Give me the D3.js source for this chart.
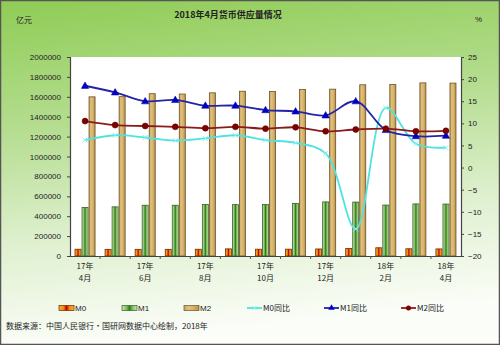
<!DOCTYPE html>
<html><head><meta charset="utf-8">
<script src="https://cdn.jsdelivr.net/npm/d3@7"></script>
<style>
html,body{margin:0;padding:0;background:#fff;}
svg{display:block;}
text{font-family:"Liberation Sans",Arial,sans-serif;fill:#222;}
.cjk{font-family:"Noto Sans CJK SC","Liberation Sans",sans-serif;}
</style></head>
<body>
<script>
const categories = ["2017-04","2017-05","2017-06","2017-07","2017-08","2017-09","2017-10","2017-11","2017-12","2018-01","2018-02","2018-03","2018-04"];
const yearLabels = ["17年","17年","17年","17年","17年","17年","17年","17年","17年","18年","18年","18年","18年"];
const monthLabels = ["4月","5月","6月","7月","8月","9月","10月","11月","12月","1月","2月","3月","4月"];
const m0 = [68100, 67000, 66977, 67100, 67900, 71600, 68300, 68600, 70600, 74600, 82600, 72500, 71100];
const m1 = [488800, 493900, 510200, 510300, 517900, 516000, 517400, 529000, 543800, 542000, 512000, 523500, 521900];
const m2 = [1599600, 1601400, 1631300, 1627900, 1640000, 1655700, 1653400, 1672500, 1676800, 1720800, 1724100, 1739900, 1737700];
const m0Yoy = [6.2, 7.3, 6.8, 6.1, 6.6, 7.3, 6.2, 5.6, 3.2, -13.9, 13.5, 5.4, 4.5];
const m1Yoy = [18.5, 17.0, 15.0, 15.3, 14.0, 14.0, 13.0, 12.7, 11.8, 15.0, 8.5, 7.1, 7.2];
const m2Yoy = [10.5, 9.6, 9.4, 9.2, 8.9, 9.2, 8.8, 9.1, 8.2, 8.6, 8.8, 8.2, 8.3];
const leftTicks = [0, 200000, 400000, 600000, 800000, 1000000, 1200000, 1400000, 1600000, 1800000, 2000000];
const rightTicks = [-20, -15, -10, -5, 0, 5, 10, 15, 20, 25];
const title = "2018年4月货币供应量情况";
const source = "数据来源：中国人民银行·国研网数据中心绘制，2018年";

const W = 500, H = 345;
const L = 70, R = 461, T = 57, B = 256;

const svg = d3.select("body").append("svg").attr("width", W).attr("height", H);
const defs = svg.append("defs");

const bg = defs.append("linearGradient").attr("id","bg").attr("x1",0).attr("y1",0).attr("x2",0.15).attr("y2",1);
[["0%","#8fcc55"],["35%","#b2dc8c"],["70%","#dff0cf"],["100%","#fbfdf8"]].forEach(s=>bg.append("stop").attr("offset",s[0]).attr("stop-color",s[1]));

function hgrad(id, stops){
  const g = defs.append("linearGradient").attr("id",id).attr("x1",0).attr("y1",0).attr("x2",1).attr("y2",0);
  stops.forEach(s=>g.append("stop").attr("offset",s[0]).attr("stop-color",s[1]));
}
hgrad("gM0", [["0%","#f7b040"],["30%","#f08a10"],["50%","#c00000"],["70%","#f08a10"],["100%","#f7b040"]]);
hgrad("gM1", [["0%","#cfe8b8"],["30%","#7fbf5a"],["50%","#2a7a1c"],["70%","#7fbf5a"],["100%","#cfe8b8"]]);
hgrad("gM2", [["0%","#c9a45c"],["30%","#e0c07c"],["60%","#d8b46c"],["100%","#b8904a"]]);

svg.append("rect").attr("x",0.5).attr("y",0.5).attr("width",W-1).attr("height",H-1)
  .attr("fill","url(#bg)").attr("stroke","#555").attr("stroke-width",1.5);

svg.append("rect").attr("x",L).attr("y",T).attr("width",R-L).attr("height",B-T).attr("fill","#fff");

const x = d3.scaleBand().domain(categories).range([L,R]).paddingInner(0.3).paddingOuter(0.15);
const xc = d3.scalePoint().domain(categories).range([L,R]).padding(0.5);
const xb = d3.scaleBand().domain(["M0","M1","M2"]).range([0,x.bandwidth()]);
const yL = d3.scaleLinear().domain([0,2000000]).range([B,T]);
const yR = d3.scaleLinear().domain([-20,25]).range([B,T]);

// bars
const series = [["M0",m0,"url(#gM0)","#6a2a00"],["M1",m1,"url(#gM1)","#3c5a30"],["M2",m2,"url(#gM2)","#6b5228"]];
series.forEach(([k,vals,fill,stroke])=>{
  svg.append("g").selectAll("rect").data(vals).join("rect")
    .attr("x",(d,i)=>x(categories[i])+xb(k)+0.5)
    .attr("y",d=>yL(d))
    .attr("width",xb.bandwidth()-1)
    .attr("height",d=>B-yL(d))
    .attr("fill",fill).attr("stroke",stroke).attr("stroke-width",0.8);
});

// axes
const axL = svg.append("g").attr("transform",`translate(${L},0)`)
  .call(d3.axisLeft(yL).tickValues(leftTicks).tickSize(3).tickPadding(6).tickFormat(d3.format("d")));
const axR = svg.append("g").attr("transform",`translate(${R},0)`)
  .call(d3.axisRight(yR).tickValues(rightTicks).tickSize(3).tickPadding(4).tickFormat(d3.format("d")));
const bandEdges = categories.slice(1);
const axB = svg.append("g").attr("transform",`translate(0,${B})`)
  .call(d3.axisBottom(x).tickValues([]).tickSizeOuter(0));
svg.append("g").selectAll("line").data(bandEdges).join("line")
  .attr("x1",d=>x(d)-x.step()*0.15).attr("x2",d=>x(d)-x.step()*0.15)
  .attr("y1",B).attr("y2",B+3).attr("stroke","#555").attr("stroke-width",1);
[axL,axR,axB].forEach(a=>{
  a.selectAll(".domain").attr("stroke","#444").attr("stroke-width",1.2);
  a.selectAll(".tick line").attr("stroke","#444");
  a.selectAll("text").style("font-size","8px").attr("fill","#222").style("font-family","'Liberation Sans',Arial,sans-serif");
});

// x labels every other category
const xl = svg.append("g");
categories.forEach((c,i)=>{
  if(i%2!==0) return;
  xl.append("text").attr("class","cjk").attr("x",xc(c)).attr("y",269).attr("text-anchor","middle").style("font-size","8px").text(yearLabels[i]);
  xl.append("text").attr("class","cjk").attr("x",xc(c)).attr("y",281).attr("text-anchor","middle").style("font-size","8px").text(monthLabels[i]);
});

// lines
const curve = d3.curveCatmullRom.alpha(0.5);
function drawLine(vals,color,w){
  const line = d3.line().x((d,i)=>xc(categories[i])).y(d=>yR(d)).curve(curve);
  svg.append("path").datum(vals).attr("d",line).attr("fill","none").attr("stroke",color).attr("stroke-width",w);
}
drawLine(m0Yoy,"#4fe3e0",1.8);
drawLine(m1Yoy,"#2323a8",1.8);
drawLine(m2Yoy,"#8b1a1a",1.8);

// markers
const m0g = svg.append("g");
m0Yoy.forEach((v,i)=>{
  const cx = xc(categories[i]), cy = yR(v);
  m0g.append("path").attr("d",`M${cx-2.5},${cy-2.5}L${cx+2.5},${cy+2.5}M${cx-2.5},${cy+2.5}L${cx+2.5},${cy-2.5}`)
    .attr("stroke","#8ef0f0").attr("stroke-width",1);
});
const tri = d3.symbol().type(d3.symbolTriangle).size(24);
svg.append("g").selectAll("path").data(m1Yoy).join("path")
  .attr("d",tri).attr("transform",(d,i)=>`translate(${xc(categories[i])},${yR(d)+0.5})`)
  .attr("fill","#0000c8").attr("stroke","#0000a0").attr("stroke-width",0.5);
svg.append("g").selectAll("circle").data(m2Yoy).join("circle")
  .attr("cx",(d,i)=>xc(categories[i])).attr("cy",d=>yR(d)).attr("r",3)
  .attr("fill","#800000").attr("stroke","#5a0000").attr("stroke-width",0.5);

// titles
svg.append("text").attr("class","cjk").attr("x",228).attr("y",18).attr("text-anchor","middle")
  .style("font-size","9px").style("font-weight","bold").text(title);
svg.append("text").attr("class","cjk").attr("x",16).attr("y",23).style("font-size","8px").text("亿元");
svg.append("text").attr("x",475).attr("y",22).style("font-size","8px").text("%");

// legend
const lg = svg.append("g");
const ly = 308;
[["M0","url(#gM0)","#6a2a00",59],["M1","url(#gM1)","#3c5a30",122],["M2","url(#gM2)","#6b5228",184]].forEach(([k,f,s,lx])=>{
  lg.append("rect").attr("x",lx).attr("y",ly-2.5).attr("width",15).attr("height",5).attr("fill",f).attr("stroke",s).attr("stroke-width",0.7);
  lg.append("text").attr("x",lx+16).attr("y",ly+3).style("font-size","8px").text(k);
});
[["M0同比","#4fe3e0",247,"x"],["M1同比","#2323a8",324,"tri"],["M2同比","#8b1a1a",401,"circ"]].forEach(([k,c,lx,m])=>{
  lg.append("line").attr("x1",lx).attr("x2",lx+15).attr("y1",ly).attr("y2",ly).attr("stroke",c).attr("stroke-width",1.8);
  const cx = lx+7.5;
  if(m==="x") lg.append("path").attr("d",`M${cx-2},${ly-2}L${cx+2},${ly+2}M${cx-2},${ly+2}L${cx+2},${ly-2}`).attr("stroke","#8ef0f0");
  if(m==="tri") lg.append("path").attr("d",d3.symbol().type(d3.symbolTriangle).size(18)()).attr("transform",`translate(${cx},${ly})`).attr("fill","#0000c8");
  if(m==="circ") lg.append("circle").attr("cx",cx).attr("cy",ly).attr("r",2.5).attr("fill","#800000");
  lg.append("text").attr("class","cjk").attr("x",lx+16).attr("y",ly+3).style("font-size","8px").text(k);
});

svg.append("text").attr("class","cjk").attr("x",6).attr("y",329).style("font-size","8px").text(source);
</script>
</body></html>
